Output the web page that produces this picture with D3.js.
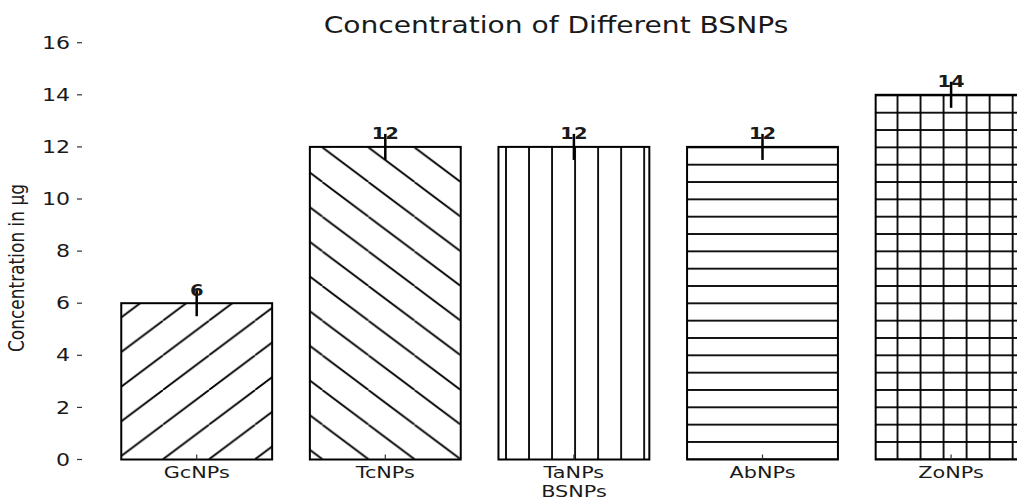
<!DOCTYPE html>
<html>
<head>
<meta charset="utf-8">
<script src="https://cdn.jsdelivr.net/npm/d3@7"></script>
<style>
  body { margin: 0; background: #fff; }
  svg { display: block; }
  text { font-family: "DejaVu Sans", sans-serif; fill: #1a1a1a; }
</style>
</head>
<body>
<svg id="chart" width="1017" height="501"></svg>
<script>
// ---- data ----
const categories = ["GcNPs", "TcNPs", "TaNPs", "AbNPs", "ZoNPs"];
const concentrations = [6, 12, 12, 12, 14];
const errors = [0.5, 0.5, 0.5, 0.5, 0.5];
const hatches = ["ne", "nw", "vertical", "horizontal", "grid"];
const yTicks = [0, 2, 4, 6, 8, 10, 12, 14, 16];
const titleText = "Concentration of Different BSNPs";
const xLabelText = "BSNPs";
const yLabelText = "Concentration in µg";

// ---- layout ----
const W = 1017, H = 501;
const stretch = 1.3;            // text is drawn slightly widened
const svg = d3.select("#chart");

const y = d3.scaleLinear().domain([0, 16]).range([459.5, 42.7]);
const x = d3.scaleBand()
  .domain(categories)
  .range([102.4, 1045.4])
  .paddingInner(0.2)
  .paddingOuter(0.1);

// ---- hatch patterns ----
const hx = 23.03, hy = 17.33;   // spacing of straight hatch lines
const dw = 2 * hx, dh = 2 * hy; // diagonal hatch cell
const hatchStroke = 1.8;
const defs = svg.append("defs");

function pattern(id, w, h, px, py) {
  return defs.append("pattern")
    .attr("id", id)
    .attr("patternUnits", "userSpaceOnUse")
    .attr("width", w).attr("height", h)
    .attr("x", px).attr("y", py);
}
function seg(p, x1, y1, x2, y2) {
  p.append("line")
    .attr("x1", x1).attr("y1", y1).attr("x2", x2).attr("y2", y2)
    .attr("stroke", "#000").attr("stroke-width", hatchStroke);
}

const ne = pattern("hatch-ne", dw, dh, 163, 459.3 - dh);
[-dw, 0, dw].forEach(o => seg(ne, o, dh, o + dw, 0));

const nw = pattern("hatch-nw", dw, dh, 322.4, 459.3);
[-dw, 0, dw].forEach(o => seg(nw, o, 0, o + dw, dh));

const ve = pattern("hatch-vertical", hx, 10, 506, 0);
[0, hx].forEach(o => seg(ve, o, 0, o, 10));

const ho = pattern("hatch-horizontal", 10, hy, 0, 459.3);
[0, hy].forEach(o => seg(ho, 0, o, 10, o));

const gr = pattern("hatch-grid", hx, hy, 506, 459.3);
[0, hx].forEach(o => seg(gr, o, 0, o, hy));
[0, hy].forEach(o => seg(gr, 0, o, hx, o));

// ---- bars ----
const rows = categories.map((c, i) => ({
  cat: c, value: concentrations[i], err: errors[i], hatch: hatches[i]
}));

svg.append("g").selectAll("rect.fill")
  .data(rows).join("rect")
  .attr("x", d => x(d.cat))
  .attr("y", d => y(d.value))
  .attr("width", x.bandwidth())
  .attr("height", d => y(0) - y(d.value))
  .attr("fill", "#fff");

svg.append("g").selectAll("rect")
  .data(rows).join("rect")
  .attr("x", d => x(d.cat))
  .attr("y", d => y(d.value))
  .attr("width", x.bandwidth())
  .attr("height", d => y(0) - y(d.value))
  .attr("fill", d => `url(#hatch-${d.hatch})`)
  .attr("stroke", "#000")
  .attr("stroke-width", 2);

// ---- error bars ----
const cx = d => x(d.cat) + x.bandwidth() / 2;
svg.append("g").selectAll("line")
  .data(rows).join("line")
  .attr("x1", cx).attr("x2", cx)
  .attr("y1", d => y(d.value - d.err))
  .attr("y2", d => y(d.value + d.err))
  .attr("stroke", "#000")
  .attr("stroke-width", 2.5);

// ---- value labels ----
function stretchedText(g, tx, ty, s) {
  return g.append("text")
    .attr("transform", `translate(${tx},${ty}) scale(${s},1)`);
}
const vl = svg.append("g");
rows.forEach(d => {
  stretchedText(vl, cx(d), y(d.value) - 7.5, stretch)
    .attr("text-anchor", "middle")
    .attr("font-size", 15)
    .attr("font-weight", "bold")
    .text(d.value);
});

// ---- y axis ----
const ya = svg.append("g");
ya.selectAll("line")
  .data(yTicks).join("line")
  .attr("x1", 77).attr("x2", 82)
  .attr("y1", d => y(d)).attr("y2", d => y(d))
  .attr("stroke", "#333").attr("stroke-width", 1.2);
yTicks.forEach(t => {
  stretchedText(ya, 70, y(t), stretch)
    .attr("text-anchor", "end")
    .attr("dy", "0.36em")
    .attr("font-size", 17)
    .text(t);
});

// ---- x axis ----
const xa = svg.append("g");
xa.selectAll("line")
  .data(rows).join("line")
  .attr("x1", cx).attr("x2", cx)
  .attr("y1", y(0)).attr("y2", y(0) - 5)
  .attr("stroke", "#333").attr("stroke-width", 1.2);
rows.forEach(d => {
  stretchedText(xa, cx(d), 478, stretch)
    .attr("text-anchor", "middle")
    .attr("font-size", 16)
    .text(d.cat);
});

// ---- titles ----
stretchedText(svg, 574, 497, stretch)
  .attr("text-anchor", "middle")
  .attr("font-size", 16)
  .text(xLabelText);

stretchedText(svg, 556, 33, 1.25)
  .attr("text-anchor", "middle")
  .attr("font-size", 22.5)
  .text(titleText);

svg.append("text")
  .attr("transform", "translate(24,268) scale(1.2,1) rotate(-90)")
  .attr("text-anchor", "middle")
  .attr("font-size", 17)
  .text(yLabelText);
</script>
</body>
</html>
